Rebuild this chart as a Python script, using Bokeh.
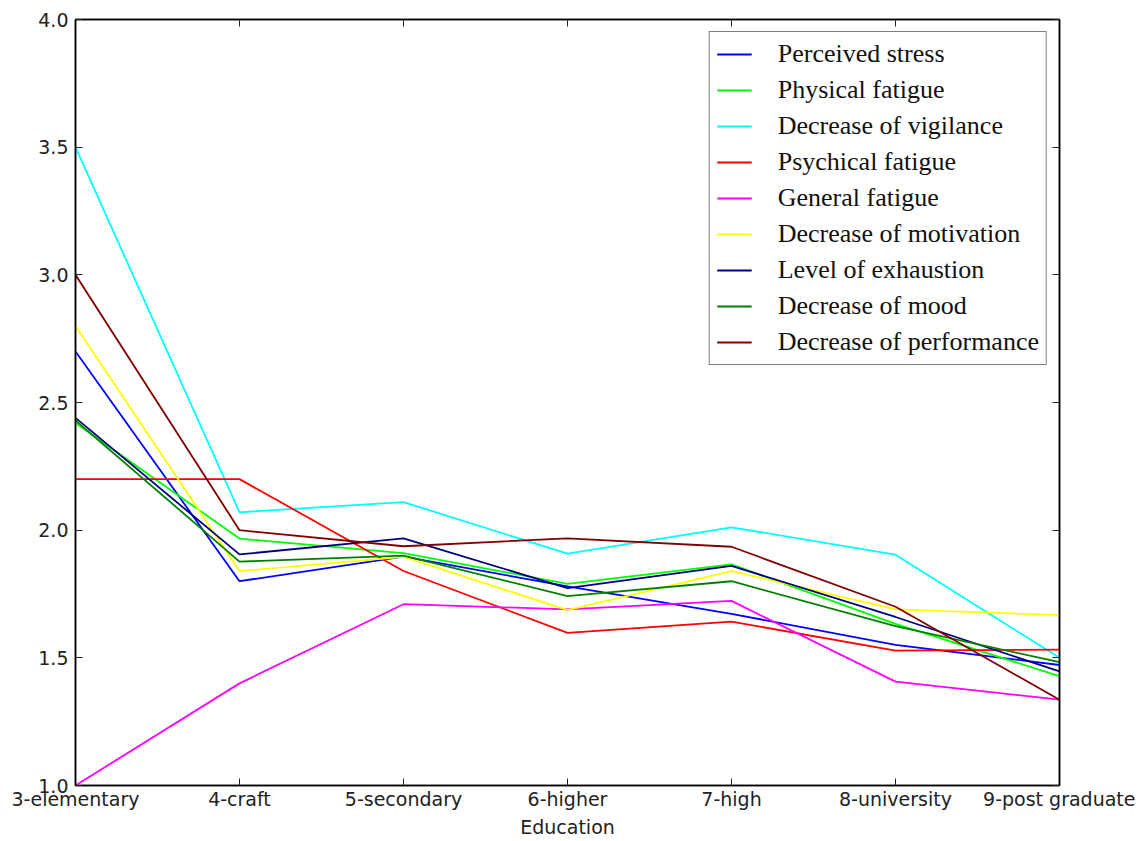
from bokeh.plotting import figure
from bokeh.models import Range1d, FixedTicker, LinearAxis, Legend, LegendItem, NumeralTickFormatter
from bokeh.embed import file_html
from bokeh.resources import INLINE

categories = ["3-elementary", "4-craft", "5-secondary", "6-higher", "7-high", "8-university", "9-post graduate"]

series_names = ["Perceived stress", "Physical fatigue", "Decrease of vigilance", "Psychical fatigue",
                "General fatigue", "Decrease of motivation", "Level of exhaustion", "Decrease of mood",
                "Decrease of performance"]

perceived_stress = [2.70, 1.80, 1.896, 1.78, 1.672, 1.551, 1.472]
physical_fatigue = [2.42, 1.967, 1.91, 1.79, 1.866, 1.633, 1.428]
decrease_vigilance = [3.50, 2.07, 2.11, 1.908, 2.011, 1.904, 1.50]
psychical_fatigue = [2.20, 2.20, 1.84, 1.598, 1.642, 1.528, 1.532]
general_fatigue = [1.00, 1.40, 1.71, 1.69, 1.723, 1.407, 1.336]
decrease_motivation = [2.80, 1.84, 1.895, 1.687, 1.84, 1.69, 1.667]
level_exhaustion = [2.44, 1.905, 1.968, 1.773, 1.86, 1.66, 1.447]
decrease_mood = [2.43, 1.877, 1.90, 1.742, 1.80, 1.624, 1.483]
decrease_performance = [3.00, 2.00, 1.937, 1.968, 1.935, 1.70, 1.336]

series_values = [perceived_stress, physical_fatigue, decrease_vigilance, psychical_fatigue,
                 general_fatigue, decrease_motivation, level_exhaustion, decrease_mood,
                 decrease_performance]
colors = ["#0000ff", "#00ff00", "#00ffff", "#ff0000", "#ff00ff", "#ffff00", "#000080", "#008000", "#800000"]

y_ticks = [1.0, 1.5, 2.0, 2.5, 3.0, 3.5, 4.0]

xs = list(range(len(categories)))

p = figure(width=1135, height=840, output_backend="svg", toolbar_location=None,
           x_range=Range1d(0, len(categories) - 1), y_range=Range1d(1.0, 4.0),
           min_border_left=75, min_border_right=76, min_border_top=19, min_border_bottom=52)
p.xgrid.visible = False
p.ygrid.visible = False
p.outline_line_color = "black"
p.outline_line_width = 1.5
p.background_fill_color = "white"
p.border_fill_color = "white"

tick_font = "DejaVu Sans"
tick_color = "#222222"

xa = p.xaxis[0]
xa.ticker = FixedTicker(ticks=xs)
xa.major_label_overrides = {i: c for i, c in enumerate(categories)}
xa.minor_tick_line_color = None
xa.major_tick_in = 7
xa.major_tick_out = 0
xa.major_label_standoff = 2
xa.major_label_text_font = tick_font
xa.major_label_text_font_size = "19px"
xa.major_label_text_color = tick_color
xa.axis_label = "Education"
xa.axis_label_text_font = tick_font
xa.axis_label_text_font_size = "19px"
xa.axis_label_text_font_style = "normal"
xa.axis_label_text_color = tick_color
xa.axis_label_standoff = 3
xa.axis_line_color = "black"
xa.axis_line_width = 1.5
xa.major_tick_line_color = tick_color

ya = p.yaxis[0]
ya.ticker = FixedTicker(ticks=y_ticks)
ya.formatter = NumeralTickFormatter(format="0.0")
ya.minor_tick_line_color = None
ya.major_tick_in = 7
ya.major_tick_out = 0
ya.major_label_standoff = 7
ya.major_label_text_font = tick_font
ya.major_label_text_font_size = "19px"
ya.major_label_text_color = tick_color
ya.axis_line_color = "black"
ya.axis_line_width = 1.5
ya.major_tick_line_color = tick_color

top = LinearAxis(ticker=FixedTicker(ticks=xs), major_label_overrides={i: "" for i in xs},
                 major_tick_in=7, major_tick_out=0, minor_tick_line_color=None,
                 major_label_standoff=0, axis_line_color="black", axis_line_width=1.5,
                 major_tick_line_color=tick_color)
p.add_layout(top, "above")
right = LinearAxis(ticker=FixedTicker(ticks=y_ticks), major_label_overrides={t: "" for t in y_ticks},
                   major_tick_in=7, major_tick_out=0, minor_tick_line_color=None,
                   major_label_standoff=0, axis_line_color="black", axis_line_width=1.5,
                   major_tick_line_color=tick_color)
p.add_layout(right, "right")

items = []
for name, vals, col in zip(series_names, series_values, colors):
    r = p.line(xs, vals, line_color=col, line_width=1.8)
    items.append(LegendItem(label=name, renderers=[r]))

legend = Legend(items=items, location="top_right", margin=12, padding=7, spacing=6,
                label_height=28, glyph_height=28, glyph_width=35, label_standoff=26,
                label_text_font="Liberation Serif", label_text_font_size="26px",
                label_text_color="#111111", border_line_color="black", border_line_width=1.5,
                background_fill_alpha=1.0)
p.add_layout(legend)

open("out.html", "w").write(file_html(p, INLINE))
